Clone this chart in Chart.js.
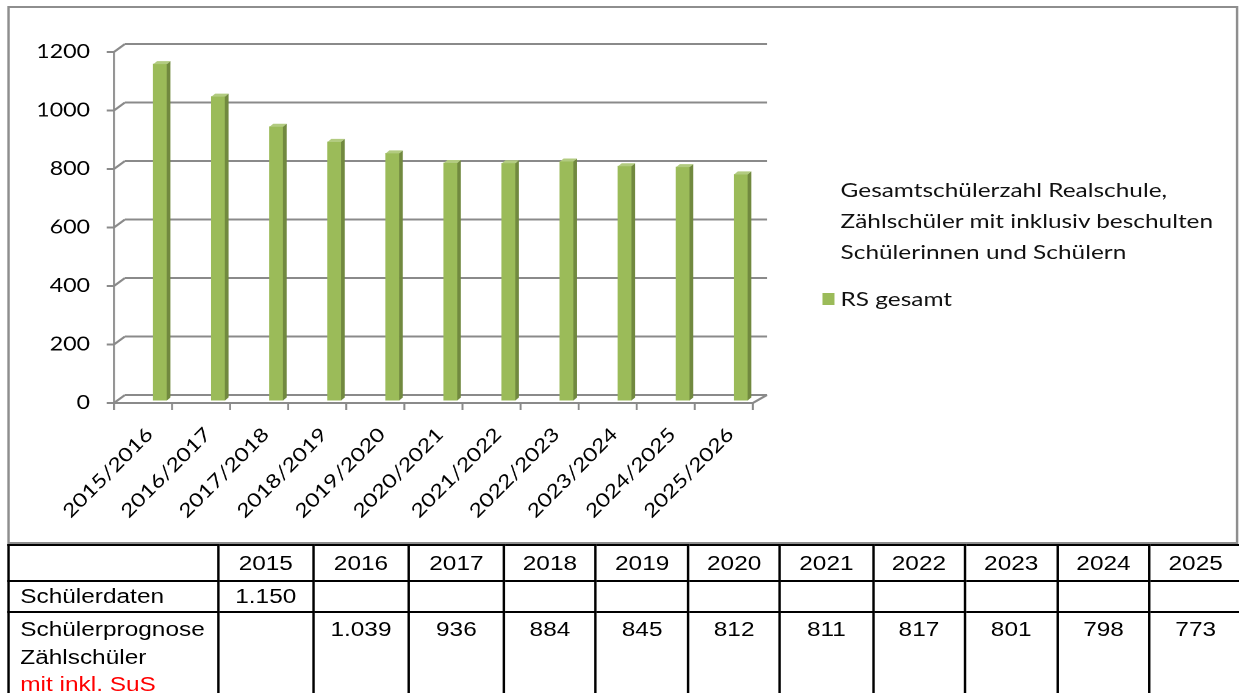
<!DOCTYPE html>
<html lang="de"><head><meta charset="utf-8">
<script src="https://cdn.jsdelivr.net/npm/chart.js@4.4.1/dist/chart.umd.min.js"></script>
<style>
html,body{margin:0;padding:0;background:#fff;overflow:hidden;width:1239px;height:693px}
#stage{position:absolute;left:0;top:0;width:1016px;height:693px;transform:scaleX(1.22);transform-origin:0 0}
#frame{position:absolute;left:5.8px;top:6px;width:1009.7px;height:538px;box-sizing:border-box;border:2px solid #8e8e8e}
#chart{position:absolute;left:0;top:0}
#legend{position:absolute;left:689px;top:174px;font-family:Lato,sans-serif;font-size:20px;color:#111;line-height:31px;white-space:nowrap}
#legend .item{position:relative;margin-top:16px}
#legend .sw{position:absolute;left:-15.5px;top:9.5px;width:10px;height:12px}
#tbl{position:absolute;left:5.6px;top:544px;border-collapse:collapse;table-layout:fixed;font-family:"Liberation Sans",Arial,sans-serif;font-size:20px;color:#000}
#tbl td{border:2px solid #000;padding:0;text-align:center;vertical-align:middle;overflow:hidden;white-space:nowrap}
#tbl td.lab{text-align:left;padding-left:9px}
#tbl tr.r1{height:36px}
#tbl tr.r2{height:31px}
#tbl tr.r3{height:95px}
#tbl tr.r3 td{vertical-align:top;padding-top:3px;line-height:27.5px}
#tbl .red{color:#ff0000}
</style>
</head><body>
<div id="stage">
  <div id="frame"></div>
  <canvas id="chart" width="1016" height="545"></canvas>
  <div id="legend"></div>
  <table id="tbl"></table>
</div>
<script>
// ---- data ----
const categories = ['2015/2016','2016/2017','2017/2018','2018/2019','2019/2020','2020/2021','2021/2022','2022/2023','2023/2024','2024/2025','2025/2026'];
const rsGesamt = [1150, 1039, 936, 884, 845, 812, 811, 817, 801, 798, 773];
const yTickValues = [0, 200, 400, 600, 800, 1000, 1200];
const seriesLabel = 'RS gesamt';
const legendTitle = ['Gesamtschülerzahl Realschule,', 'Zählschüler mit inklusiv beschulten', 'Schülerinnen und Schülern'];
const tableYears = ['2015','2016','2017','2018','2019','2020','2021','2022','2023','2024','2025'];
const schuelerdaten = [1150, null, null, null, null, null, null, null, null, null, null];
const schuelerprognose = [null, 1039, 936, 884, 845, 812, 811, 817, 801, 798, 773];
const rowLabel1 = 'Schülerdaten';
const rowLabel2 = ['Schülerprognose', 'Zählschüler'];
const rowLabel2Red = 'mit inkl. SuS';

// ---- layout / style ----
const SX = 1.22;                       // horizontal stretch of the stage
const BAR_FRONT = '#9BBB59', BAR_SIDE = '#71893F', BAR_TOP = '#B2CB80';
const GRID = '#8a8a8a';
const colWidths = [172.6, 77.4, 78.6, 77.9, 75.4, 75.8, 75.0, 76.3, 75.4, 75.9, 75.4, 75.7];
const TICK_FONT = '19px Lato';

function fmt(n){ if(n==null) return ''; return n>=1000 ? Math.floor(n/1000)+'.'+String(n%1000).padStart(3,'0') : String(n); }

// table
(function(){
  const t = document.getElementById('tbl');
  let w = 0; let html = '<colgroup>';
  colWidths.forEach(c => { html += '<col style="width:'+c+'px">'; w += c; });
  html += '</colgroup>';
  html += '<tr class="r1"><td class="lab"></td>' + tableYears.map(y => '<td>'+y+'</td>').join('') + '</tr>';
  html += '<tr class="r2"><td class="lab">'+rowLabel1+'</td>' + schuelerdaten.map(v => '<td>'+fmt(v)+'</td>').join('') + '</tr>';
  html += '<tr class="r3"><td class="lab">'+rowLabel2.join('<br>')+'<br><span class="red">'+rowLabel2Red+'</span></td>' + schuelerprognose.map(v => '<td>'+fmt(v)+'</td>').join('') + '</tr>';
  t.innerHTML = html;
  t.style.width = w + 'px';
})();

const excel3d = {
  id: 'excel3d',
  beforeDatasetsDraw(chart){
    const {ctx, chartArea: a, scales: {x, y}} = chart;
    const fL = a.left - 14, fR = a.right - 14;
    const bL = a.left - 5, bR = a.right - 2.5;
    const yF = v => y.getPixelForValue(v) + 2.5;
    const yB = v => y.getPixelForValue(v) - 5.5;
    ctx.save();
    ctx.strokeStyle = GRID;
    ctx.lineWidth = 2;
    y.ticks.forEach(t => {
      ctx.beginPath(); ctx.moveTo(bL, yB(t.value)); ctx.lineTo(bR, yB(t.value)); ctx.stroke();
      ctx.beginPath(); ctx.moveTo(fL - 6, yF(t.value)); ctx.lineTo(fL, yF(t.value)); ctx.lineTo(bL, yB(t.value)); ctx.stroke();
    });
    const y0 = yF(0);
    ctx.beginPath(); ctx.moveTo(fL, y0); ctx.lineTo(fR, y0); ctx.lineTo(bR, yB(0)); ctx.stroke();
    ctx.lineWidth = 1.6;
    ctx.beginPath(); ctx.moveTo(fL, yF(y.max)); ctx.lineTo(fL, y0 + 7); ctx.stroke();
    const n = x.ticks.length;
    const half = (x.getPixelForValue(1) - x.getPixelForValue(0)) / 2;
    for (let k = 0; k <= n; k++) {
      const xx = (k < n ? x.getPixelForValue(k) - half : x.getPixelForValue(n-1) + half) - 14;
      ctx.beginPath(); ctx.moveTo(xx, y0); ctx.lineTo(xx, y0 + 7); ctx.stroke();
    }
    ctx.restore();
  },
  afterDatasetsDraw(chart){
    const {ctx} = chart;
    const meta = chart.getDatasetMeta(0);
    const dx = 3, dy = -3;
    ctx.save();
    meta.data.forEach(bar => {
      const {x, y, base, width} = bar.getProps(['x','y','base','width'], true);
      const l = x - width/2, r = x + width/2;
      ctx.fillStyle = BAR_SIDE;
      ctx.beginPath(); ctx.moveTo(r, y); ctx.lineTo(r+dx, y+dy); ctx.lineTo(r+dx, base+dy); ctx.lineTo(r, base); ctx.closePath(); ctx.fill();
      ctx.fillStyle = BAR_TOP;
      ctx.beginPath(); ctx.moveTo(l, y); ctx.lineTo(l+dx, y+dy); ctx.lineTo(r+dx, y+dy); ctx.lineTo(r, y); ctx.closePath(); ctx.fill();
    });
    ctx.restore();
  },
  // category labels: 45° as seen after the stage stretch, glyphs widened but not sheared
  afterDraw(chart){
    const {ctx, chartArea: a, scales: {x}} = chart;
    const c = Math.SQRT1_2;
    ctx.save();
    ctx.font = TICK_FONT;
    ctx.fillStyle = '#000';
    ctx.textAlign = 'right';
    ctx.textBaseline = 'top';
    x.getLabels().forEach((lab, i) => {
      const px = x.getPixelForValue(i) - 14;
      const py = a.bottom + 24;
      ctx.save();
      ctx.translate(px, py);
      ctx.transform(c, -c * SX, c / SX, c, 0, 0);
      ctx.fillText(lab, 0, 0);
      ctx.restore();
    });
    ctx.restore();
  }
};

function draw(){
  const chart = new Chart(document.getElementById('chart'), {
    type: 'bar',
    data: { labels: categories, datasets: [{ label: seriesLabel, data: rsGesamt, backgroundColor: BAR_FRONT, borderWidth: 0, barThickness: 11 }] },
    options: {
      responsive: false, animation: false, devicePixelRatio: 2,
      layout: { padding: { left: 0, top: 49.5, right: 384.9, bottom: 44.5 } },
      plugins: { legend: { display: false }, tooltip: { enabled: false } },
      scales: {
        x: {
          grid: { display: false, drawTicks: false }, border: { display: false },
          ticks: { display: false, autoSkip: false },
          afterFit: s => { s.height = 100; }
        },
        y: {
          min: 0, max: 1200,
          grid: { display: false, drawTicks: false }, border: { display: false },
          afterBuildTicks: s => { s.ticks = yTickValues.map(v => ({ value: v })); },
          ticks: { padding: 33.6, labelOffset: 2.5, color: '#000', font: { family: 'Lato', size: 19 }, callback: v => String(v) },
          afterFit: s => { s.width = 107.4; }
        }
      }
    },
    plugins: [excel3d]
  });
  const ds = chart.data.datasets[0];
  const lg = document.getElementById('legend');
  lg.innerHTML = legendTitle.map(s => '<div>'+s+'</div>').join('') +
    '<div class="item"><span class="sw" style="background:'+ds.backgroundColor+'"></span>'+ds.label+'</div>';
}
Promise.all([document.fonts.load('19px Lato'), document.fonts.load('20px "Liberation Sans"')]).then(draw, draw);
</script>
</body></html>
